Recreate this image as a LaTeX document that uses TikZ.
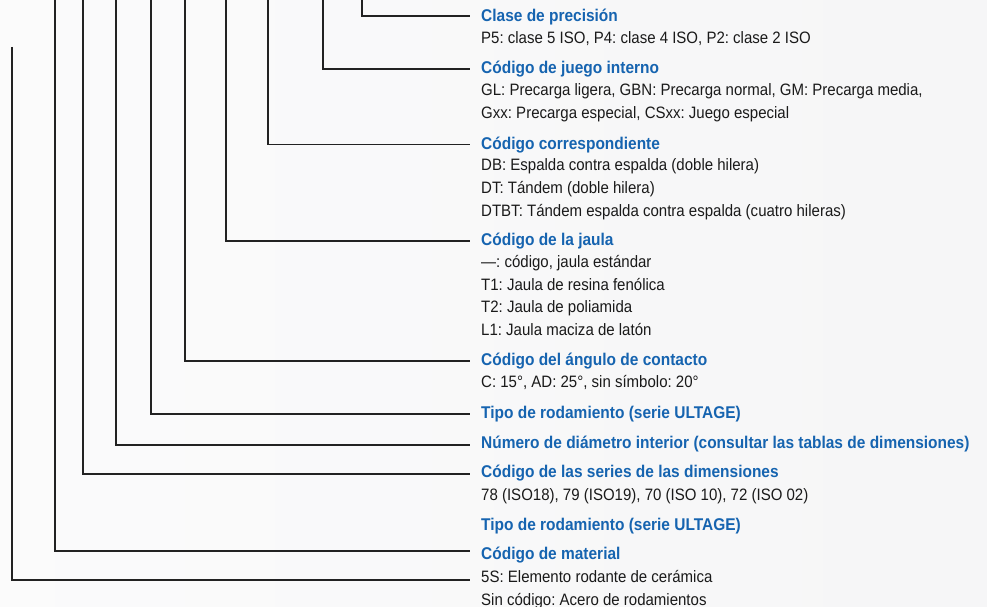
\documentclass[tikz,border=0pt]{standalone}
\usepackage{fontspec}
\setmainfont{Liberation Sans}[FakeStretch=0.91]
\frenchspacing
\definecolor{bgc}{RGB}{246,246,247}
\definecolor{titleblue}{RGB}{22,100,176}
\definecolor{bodytxt}{RGB}{26,26,26}
\definecolor{linec}{RGB}{34,34,34}
\tikzset{
  ttl/.style={anchor=base west, inner sep=0pt, text=titleblue, font=\fontsize{17}{20}\selectfont\bfseries},
  bdy/.style={anchor=base west, inner sep=0pt, text=bodytxt, font=\fontsize{16.5}{20}\selectfont},
  leader/.style={draw=linec, line width=1.3pt}
}
\begin{document}
\frenchspacing
\begin{tikzpicture}[x=1pt,y=-1pt]
\path[use as bounding box, fill=bgc] (0,0) rectangle (987,607);
\shade[left color=white, right color=bgc, opacity=0.6] (0,0) rectangle (987,607);

% titles
\node[ttl] (t1) at (481,21.5) {Clase de precisión};
\node[ttl] (t2) at (481,74) {Código de juego interno};
\node[ttl] (t3) at (481,149) {Código correspondiente};
\node[ttl] (t4) at (481,245.7) {Código de la jaula};
\node[ttl] (t5) at (481,365.7) {Código del ángulo de contacto};
\node[ttl] (t6) at (481,418.3) {Tipo de rodamiento (serie ULTAGE)};
\node[ttl] (t7) at (481,448.3) {Número de diámetro interior (consultar las tablas de dimensiones)};
\node[ttl] (t8) at (481,477.3) {Código de las series de las dimensiones};
\node[ttl] (t9) at (481,530) {Tipo de rodamiento (serie ULTAGE)};
\node[ttl] (t10) at (481,559.3) {Código de material};

% bodies
\node[bdy] (b1) at (481,43.3) {P5: clase 5 ISO, P4: clase 4 ISO, P2: clase 2 ISO};
\node[bdy] (b2a) at (481,95.7) {GL: Precarga ligera, GBN: Precarga normal, GM: Precarga media,};
\node[bdy] (b2b) at (481,118.3) {Gxx: Precarga especial, CSxx: Juego especial};
\node[bdy] (b3a) at (481,170.7) {DB: Espalda contra espalda (doble hilera)};
\node[bdy] (b3b) at (481,193.3) {DT: Tándem (doble hilera)};
\node[bdy] (b3c) at (481,216.7) {DTBT: Tándem espalda contra espalda (cuatro hileras)};
\node[bdy] (b4a) at (481,267.3) {—: código, jaula estándar};
\node[bdy] (b4b) at (481,290) {T1: Jaula de resina fenólica};
\node[bdy] (b4c) at (481,312.3) {T2: Jaula de poliamida};
\node[bdy] (b4d) at (481,335) {L1: Jaula maciza de latón};
\node[bdy] (b5) at (481,387.3) {C: 15°, AD: 25°, sin símbolo: 20°};
\node[bdy] (b8) at (481,500) {78 (ISO18), 79 (ISO19), 70 (ISO 10), 72 (ISO 02)};
\node[bdy] (b10a) at (481,582.3) {5S: Elemento rodante de cerámica};
\node[bdy] (b10b) at (481,605) {Sin código: Acero de rodamientos};

% leader start and end points
\coordinate (s1) at (362,0);   \coordinate (e1) at (470,16);
\coordinate (s2) at (323,0);   \coordinate (e2) at (470,69);
\coordinate (s3) at (268,0);   \coordinate (e3) at (470,144.5);
\coordinate (s4) at (226,0);   \coordinate (e4) at (470,241);
\coordinate (s5) at (185,0);   \coordinate (e5) at (470,361);
\coordinate (s6) at (151,0);   \coordinate (e6) at (470,414);
\coordinate (s7) at (116,0);   \coordinate (e7) at (470,445);
\coordinate (s8) at (83,0);    \coordinate (e8) at (470,474);
\coordinate (s10) at (55,0);   \coordinate (e10) at (470,551);
\coordinate (s11) at (12,47);  \coordinate (e11) at (470,580);

\foreach \i in {1,2,3,4,5,6,7,8,10,11}{
  \draw[leader] (s\i) |- (e\i);
}
\end{tikzpicture}
\end{document}
